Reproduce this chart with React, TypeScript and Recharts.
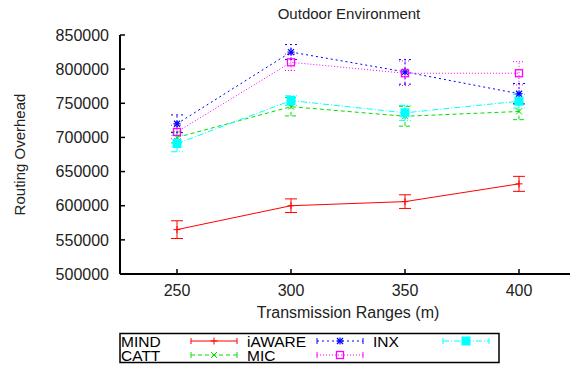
import React from "react";
import { ErrorBar, Line, LineChart, XAxis, YAxis } from "recharts";

const ranges = [250, 300, 350, 400];
const yTicks = [500000, 550000, 600000, 650000, 700000, 750000, 800000, 850000];

const mind = [565000, 600000, 606000, 632000];
const mindErr = [13000, 10000, 10000, 11000];
const catt = [700000, 745000, 731000, 738000];
const cattErr = [8000, 13500, 14500, 12000];
const iaware = [720000, 825000, 796000, 764000];
const iawareErr = [13000, 11000, 18000, 15000];
const mic = [708000, 810000, 794000, 794000];
const micErr = [10000, 12000, 18000, 17000];
const inx = [691000, 754000, 736000, 753000];
const inxErr = [12000, 7000, 11000, 10000];

const FONT = "'Liberation Sans', Arial, sans-serif";

type MarkerType = "plus" | "cross" | "star" | "box" | "boxFilled";

type SeriesConfig = {
  key: string;
  name: string;
  color: string;
  dash?: string;
  marker: MarkerType;
  values: number[];
  errors: number[];
};

// gnuplot order: drawn first to last, legend column-major
const series: SeriesConfig[] = [
  { key: "mind", name: "MIND", color: "#ff0000", marker: "plus", values: mind, errors: mindErr },
  { key: "catt", name: "CATT", color: "#00e000", dash: "4 3", marker: "cross", values: catt, errors: cattErr },
  { key: "iaware", name: "iAWARE", color: "#0000ff", dash: "2 3", marker: "star", values: iaware, errors: iawareErr },
  { key: "mic", name: "MIC", color: "#ff00ff", dash: "1 2", marker: "box", values: mic, errors: micErr },
  { key: "inx", name: "INX", color: "#00ffff", dash: "6 2 1 2", marker: "boxFilled", values: inx, errors: inxErr },
];

const data = ranges.map((x, i) => {
  const row: Record<string, number> = { x };
  series.forEach((s) => {
    row[s.key] = s.values[i];
    row[s.key + "Err"] = s.errors[i];
  });
  return row;
});

const Marker = ({ type, cx, cy, color }: { type: MarkerType; cx: number; cy: number; color: string }) => {
  const r = 3.5;
  if (type === "plus")
    return (
      <g stroke={color} strokeWidth={1}>
        <line x1={cx - r} y1={cy} x2={cx + r} y2={cy} />
        <line x1={cx} y1={cy - r} x2={cx} y2={cy + r} />
      </g>
    );
  if (type === "cross")
    return (
      <g stroke={color} strokeWidth={1}>
        <line x1={cx - 3} y1={cy - 3} x2={cx + 3} y2={cy + 3} />
        <line x1={cx - 3} y1={cy + 3} x2={cx + 3} y2={cy - 3} />
      </g>
    );
  if (type === "star")
    return (
      <g stroke={color} strokeWidth={1.2}>
        <line x1={cx - r} y1={cy} x2={cx + r} y2={cy} />
        <line x1={cx} y1={cy - r} x2={cx} y2={cy + r} />
        <line x1={cx - 3} y1={cy - 3} x2={cx + 3} y2={cy + 3} />
        <line x1={cx - 3} y1={cy + 3} x2={cx + 3} y2={cy - 3} />
      </g>
    );
  if (type === "box")
    return <rect x={cx - 3.5} y={cy - 3.5} width={7} height={7} fill="none" stroke={color} strokeWidth={1.3} />;
  return <rect x={cx - 4} y={cy - 4} width={8} height={8} fill={color} stroke={color} />;
};

// title and key drawn over the chart, like gnuplot puts them
const Overlay = () => {
  const colX = [121, 247, 373];
  const rowY = [341, 355];
  return (
    <svg
      width={570}
      height={365}
      style={{ position: "absolute", left: 0, top: 0, pointerEvents: "none" }}
    >
      <text x={349} y={18.5} textAnchor="middle" fontSize={15} fontFamily={FONT} fill="#222">
        Outdoor Environment
      </text>
      <rect x={120} y={333.5} width={379} height={29} fill="white" stroke="#000" strokeWidth={1.5} />
      {series.map((s, i) => {
        const col = Math.floor(i / 2);
        const row = i % 2;
        const x = colX[col];
        const y = rowY[row];
        const x1 = x + 70;
        const x2 = x + 116;
        return (
          <g key={s.key}>
            <text x={x} y={y + 5.5} fontSize={15.5} fontFamily={FONT} fill="#000">
              {s.name}
            </text>
            <g stroke={s.color} strokeWidth={1}>
              <line x1={x1} y1={y} x2={x2} y2={y} strokeDasharray={s.dash} />
              <line x1={x1} y1={y - 3} x2={x1} y2={y + 3} />
              <line x1={x2} y1={y - 3} x2={x2} y2={y + 3} />
            </g>
            <Marker type={s.marker} cx={(x1 + x2) / 2} cy={y} color={s.color} />
          </g>
        );
      })}
    </svg>
  );
};

const BottomTick = ({ x, y, payload }: any) => (
  <g>
    <line x1={x} y1={y} x2={x} y2={y - 5} stroke="#000" strokeWidth={1.5} />
    <text x={x} y={y + 22} textAnchor="middle" fontSize={16} fontFamily={FONT} fill="#222">
      {payload.value}
    </text>
  </g>
);

const TopTick = ({ x, y }: any) => (
  <line x1={x} y1={y} x2={x} y2={y + 5} stroke="#000" strokeWidth={1.5} />
);

const LeftTick = ({ x, y, payload }: any) => (
  <g>
    <line x1={x} y1={y} x2={x + 5} y2={y} stroke="#000" strokeWidth={1.5} />
    <text x={x - 11} y={y} dy="0.36em" textAnchor="end" fontSize={16} fontFamily={FONT} fill="#222">
      {payload.value}
    </text>
  </g>
);

export default function App() {
  return (
    <div
      style={{
        position: "absolute",
        left: 0,
        top: 0,
        width: 570,
        height: 365,
        overflow: "hidden",
        background: "#fff",
        fontFamily: FONT,
      }}
    >
      <LineChart width={600} height={365} data={data} margin={{ top: 35, right: 24, bottom: 41, left: 0 }}>
        <XAxis
          dataKey="x"
          type="number"
          domain={[225, 425]}
          ticks={ranges}
          allowDataOverflow
          height={50}
          tickSize={0}
          tickMargin={0}
          tickLine={false}
          axisLine={{ stroke: "#000", strokeWidth: 2 }}
          tick={BottomTick}
          label={{
            value: "Transmission Ranges (m)",
            position: "insideBottom",
            offset: 6,
            fontSize: 16,
            fill: "#222",
            fontFamily: FONT,
          }}
        />
        <XAxis
          xAxisId="top"
          orientation="top"
          dataKey="x"
          type="number"
          domain={[225, 425]}
          ticks={ranges}
          allowDataOverflow
          height={0}
          tickSize={0}
          tickMargin={0}
          tickLine={false}
          axisLine={{ stroke: "#000", strokeWidth: 2 }}
          tick={TopTick}
        />
        <YAxis
          type="number"
          domain={[500000, 850000]}
          ticks={yTicks}
          allowDataOverflow
          width={120}
          tickSize={0}
          tickMargin={0}
          tickLine={false}
          axisLine={{ stroke: "#000", strokeWidth: 2 }}
          tick={LeftTick}
          label={{
            value: "Routing Overhead",
            angle: -90,
            position: "insideLeft",
            offset: 20,
            fontSize: 15,
            fill: "#222",
            fontFamily: FONT,
            style: { textAnchor: "middle" },
          }}
        />
        {series.map((s) => (
          <Line
            key={s.key}
            dataKey={s.key}
            name={s.name}
            type="linear"
            stroke={s.color}
            strokeWidth={1}
            strokeDasharray={s.dash}
            isAnimationActive={false}
            activeDot={false}
            dot={(p: any) => (
              <Marker key={`${s.key}-${p.index}`} type={s.marker} cx={p.cx} cy={p.cy} color={s.color} />
            )}
          >
            <ErrorBar
              dataKey={s.key + "Err"}
              direction="y"
              width={6}
              stroke={s.color}
              strokeWidth={1}
              strokeDasharray={s.dash}
              isAnimationActive={false}
            />
          </Line>
        ))}
      </LineChart>
      <Overlay />
    </div>
  );
}
